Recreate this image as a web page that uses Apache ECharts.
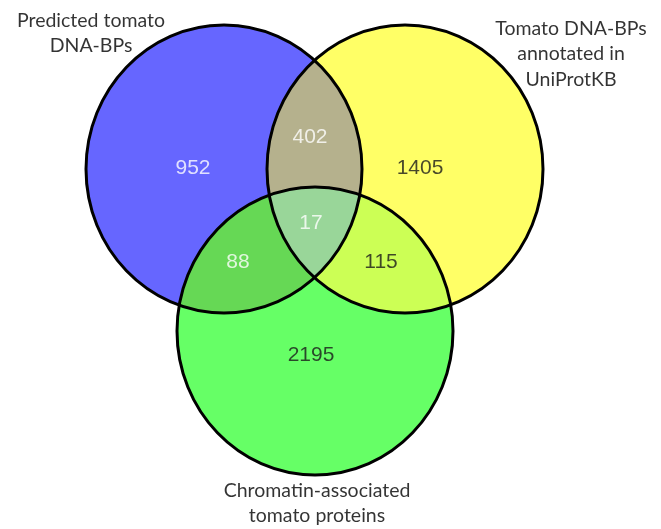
<!DOCTYPE html>
<html><head><meta charset="utf-8">
<script src="https://cdn.jsdelivr.net/npm/echarts@6/dist/echarts.min.js"></script>
<style>html,body{margin:0;padding:0;background:#fff}#c{width:661px;height:529px}</style>
</head><body><div id="c"></div>
<script>
// ---- Data ----
const setNames = ['Predicted tomato\nDNA-BPs', 'Tomato DNA-BPs\nannotated in\nUniProtKB', 'Chromatin-associated\ntomato proteins'];
const setKeys = ['A', 'B', 'C'];
const regionSets = [['A'], ['B'], ['C'], ['A','B'], ['A','C'], ['B','C'], ['A','B','C']];
const regionCounts = [952, 1405, 2195, 402, 88, 115, 17];

// ---- Layout (plot units) ----
const circleLayout = {
  A: {cx: 224, cy: 169, rx: 138, ry: 144},
  B: {cx: 405, cy: 169, rx: 138, ry: 144},
  C: {cx: 315, cy: 331, rx: 138, ry: 144}
};
const setLabelPos = [[91, 33], [571, 54], [317, 503]];
const regionLabelPos = [[193,168],[420,168],[311,355],[310,137],[238,262],[381,262],[311,223]];

// ---- Styles ----
const regionColors = ['#6666ff', '#ffff66', '#66ff66', '#b5b18d', '#66d855', '#ccff55', '#99d699'];
const regionTextColors = ['#ffffff', '#1a1a1a', '#1a1a1a', '#ffffff', '#ffffff', '#1a1a1a', '#ffffff'];

function pixelEllipses(api) {
  const out = {};
  for (const k in circleLayout) {
    const c = circleLayout[k];
    const p = api.coord([c.cx, c.cy]);
    const s = api.size([c.rx, c.ry]);
    out[k] = {cx: p[0], cy: p[1], rx: Math.abs(s[0]), ry: Math.abs(s[1])};
  }
  return out;
}
function intersect(e1, e2) {
  const k = e1.rx / e1.ry;
  const x1 = e1.cx, y1 = e1.cy * k, x2 = e2.cx, y2 = e2.cy * k, r = e1.rx;
  const dx = x2 - x1, dy = y2 - y1, d = Math.hypot(dx, dy);
  const a = d / 2, h = Math.sqrt(Math.max(r * r - a * a, 0));
  const mx = (x1 + x2) / 2, my = (y1 + y2) / 2;
  const nx = -dy / d, ny = dx / d;
  return [[mx + h * nx, (my + h * ny) / k], [mx - h * nx, (my - h * ny) / k]];
}
function inside(p, e) {
  const u = (p[0] - e.cx) / e.rx, v = (p[1] - e.cy) / e.ry;
  return u * u + v * v < 1;
}
function arc(P, Q, e) {
  const dx = Q[0] - P[0], dy = Q[1] - P[1];
  const cross = dx * (e.cy - P[1]) - dy * (e.cx - P[0]);
  return 'A ' + e.rx + ' ' + e.ry + ' 0 0 ' + (cross > 0 ? 1 : 0) + ' ' + Q[0] + ' ' + Q[1];
}
function regionPath(sets, E) {
  if (sets.length === 2) {
    const [X, Y] = sets;
    const [P, Q] = intersect(E[X], E[Y]);
    return 'M ' + P[0] + ' ' + P[1] + ' ' + arc(P, Q, E[X]) + ' ' + arc(Q, P, E[Y]) + ' Z';
  }
  const vAB = intersect(E.A, E.B).find(p => inside(p, E.C));
  const vAC = intersect(E.A, E.C).find(p => inside(p, E.B));
  const vBC = intersect(E.B, E.C).find(p => inside(p, E.A));
  return 'M ' + vAB[0] + ' ' + vAB[1] + ' ' + arc(vAB, vAC, E.A) + ' ' + arc(vAC, vBC, E.C) + ' ' + arc(vBC, vAB, E.B) + ' Z';
}

const chart = echarts.init(document.getElementById('c'), null, {renderer: 'canvas'});
chart.setOption({
  animation: false,
  grid: {left: 0, right: 0, top: 0, bottom: 0},
  xAxis: {type: 'value', min: 0, max: 661, show: false},
  yAxis: {type: 'value', min: 0, max: 529, inverse: true, show: false},
  series: [
    {
      type: 'custom',
      coordinateSystem: 'cartesian2d',
      encode: {x: 0, y: 1},
      data: regionCounts.map((v, i) => [regionLabelPos[i][0], regionLabelPos[i][1], v]),
      renderItem: function (params, api) {
        const E = pixelEllipses(api);
        const i = params.dataIndex;
        const sets = regionSets[i];
        if (sets.length === 1) {
          const e = E[sets[0]];
          return {type: 'ellipse', shape: {cx: e.cx, cy: e.cy, rx: e.rx, ry: e.ry}, style: {fill: regionColors[i]}};
        }
        return {type: 'path', shape: {pathData: regionPath(sets, E)}, style: {fill: regionColors[i]}};
      },
      z: 1
    },
    {
      type: 'custom',
      coordinateSystem: 'cartesian2d',
      encode: {x: 0, y: 1},
      data: setKeys.map(k => [circleLayout[k].cx, circleLayout[k].cy]),
      renderItem: function (params, api) {
        const E = pixelEllipses(api);
        const e = E[setKeys[params.dataIndex]];
        return {type: 'ellipse', shape: {cx: e.cx, cy: e.cy, rx: e.rx, ry: e.ry}, style: {fill: 'none', stroke: '#000', lineWidth: 3}};
      },
      z: 2
    },
    {
      type: 'scatter',
      symbolSize: 0,
      data: regionCounts.map((v, i) => ({
        value: [regionLabelPos[i][0], regionLabelPos[i][1], v],
        label: {color: regionTextColors[i]}
      })),
      label: {
        show: true, position: 'inside',
        formatter: p => String(p.value[2]),
        fontFamily: 'Liberation Sans, Arial, sans-serif', fontSize: 21
      },
      z: 3
    },
    {
      type: 'scatter',
      symbolSize: 0,
      data: setNames.map((n, i) => ({value: setLabelPos[i], name: n})),
      label: {
        show: true, position: 'inside', formatter: '{b}',
        fontFamily: 'Lato, sans-serif', fontSize: 19.5, lineHeight: 25.5, color: '#000', align: 'center'
      },
      z: 3
    }
  ]
});
</script>
</body></html>
